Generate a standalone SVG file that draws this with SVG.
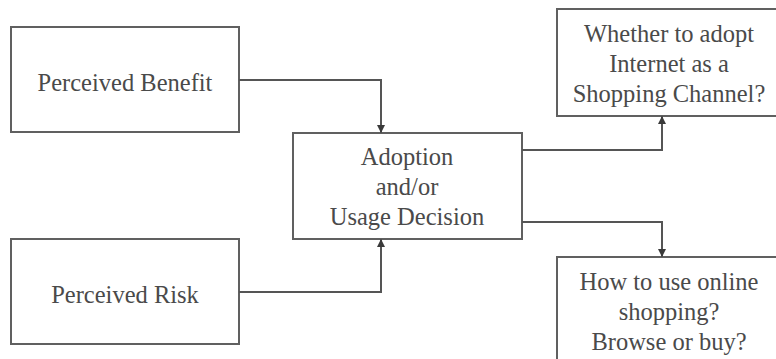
<svg xmlns="http://www.w3.org/2000/svg" width="776" height="359" viewBox="0 0 776 359">
<defs>
<marker id="arr" viewBox="0 0 10 10" refX="10" refY="5" markerWidth="8" markerHeight="8" markerUnits="userSpaceOnUse" orient="auto">
<path d="M0,0 L10,5 L0,10 Z" fill="#3a3a3a"/>
</marker>
<style>
.box{fill:#ffffff;stroke:#606060;stroke-width:2}
.lbl{font-family:"Liberation Serif","Times New Roman",serif;font-size:24.5px;fill:#4a4a4a;text-anchor:middle}
.con{fill:none;stroke:#555555;stroke-width:2;marker-end:url(#arr)}
</style>
</defs>
<rect width="776" height="359" fill="#ffffff"/>
<g id="benefit">
<rect class="box" x="11" y="27" width="228" height="105"/>
<text class="lbl" x="125" y="91">Perceived Benefit</text>
</g>
<g id="risk">
<rect class="box" x="11" y="239" width="228" height="105"/>
<text class="lbl" x="125" y="303">Perceived Risk</text>
</g>
<g id="decision">
<rect class="box" x="293" y="133" width="229" height="106"/>
<text class="lbl" x="407" y="165">Adoption</text>
<text class="lbl" x="407" y="195">and/or</text>
<text class="lbl" x="407" y="225">Usage Decision</text>
</g>
<g id="whether">
<rect class="box" x="557" y="9" width="230" height="107"/>
<text class="lbl" x="669" y="42">Whether to adopt</text>
<text class="lbl" x="669" y="72">Internet as a</text>
<text class="lbl" x="669" y="102">Shopping Channel?</text>
</g>
<g id="how">
<rect class="box" x="557" y="257" width="230" height="120"/>
<text class="lbl" x="669" y="290">How to use online</text>
<text class="lbl" x="669" y="320">shopping?</text>
<text class="lbl" x="669" y="350">Browse or buy?</text>
</g>
<g id="connectors">
<path class="con" d="M239,80 H381 V133"/>
<path class="con" d="M239,292 H381 V239"/>
<path class="con" d="M522,150 H662 V116"/>
<path class="con" d="M522,222 H662 V257"/>
</g>
</svg>
